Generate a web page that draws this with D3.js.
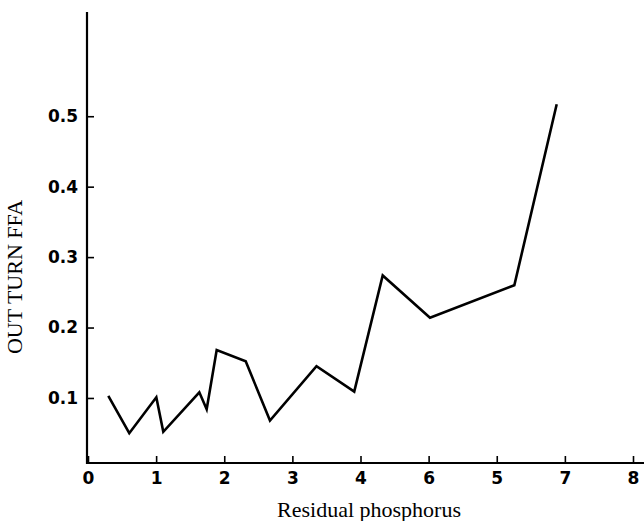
<!DOCTYPE html>
<html><head><meta charset="utf-8">
<script src="https://cdn.jsdelivr.net/npm/d3@7"></script>
<style>body{margin:0;background:#fff}svg{display:block}</style>
</head><body>
<script>
// Data (x in axis-position units; axis printed labels as in original)
const xPos = [0.298, 0.606, 1.003, 1.105, 1.634, 1.742, 1.889, 2.315, 2.671, 3.354, 3.908, 4.326, 5.020, 6.258, 6.880];
const ffa  = [0.103, 0.050, 0.101, 0.052, 0.108, 0.084, 0.168, 0.152, 0.068, 0.145, 0.109, 0.274, 0.214, 0.260, 0.517];
const xTickValues = [0,1,2,3,4,5,6,7,8];
const xTickLabels = ["0","1","2","3","4","6","5","7","8"];
const yTickValues = [0.1,0.2,0.3,0.4,0.5];
const yTickLabels = ["0.1","0.2","0.3","0.4","0.5"];

const W = 644, H = 521;
const svg = d3.select("body").append("svg").attr("width", W).attr("height", H);

const x = d3.scaleLinear().domain([0, 8]).range([88, 633]);
const y = d3.scaleLinear().domain([0, 0.6]).range([468.4, 45.8]);
const axisY = 463, axisX = 87;

// x axis
const gx = svg.append("g").attr("transform", `translate(0,${axisY})`)
  .call(d3.axisBottom(x).tickValues(xTickValues).tickFormat((d,i)=>xTickLabels[i]).tickSizeInner(-7).tickSizeOuter(0).tickPadding(9));
gx.select(".domain").remove();
gx.selectAll(".tick line").attr("stroke","#000").attr("stroke-width",1.6);
gx.selectAll(".tick text").attr("font-family","DejaVu Sans").attr("font-weight","bold").attr("font-size",17).attr("fill","#000");
svg.append("line").attr("x1",axisX).attr("x2",644).attr("y1",axisY).attr("y2",axisY)
  .attr("stroke","#000").attr("stroke-width",2.2);

// y axis
const gy = svg.append("g").attr("transform", `translate(${axisX},0)`)
  .call(d3.axisLeft(y).tickValues(yTickValues).tickFormat((d,i)=>yTickLabels[i]).tickSizeInner(-7).tickSizeOuter(0).tickPadding(9));
gy.select(".domain").remove();
gy.selectAll(".tick line").attr("stroke","#000").attr("stroke-width",1.6);
gy.selectAll(".tick text").attr("font-family","DejaVu Sans").attr("font-weight","bold").attr("font-size",17).attr("fill","#000");
svg.append("line").attr("x1",axisX).attr("x2",axisX).attr("y1",12).attr("y2",axisY+1)
  .attr("stroke","#000").attr("stroke-width",2.2);

// line
const pts = xPos.map((v,i)=>[v, ffa[i]]);
svg.append("path").datum(pts)
  .attr("d", d3.line().x(d=>x(d[0])).y(d=>y(d[1])))
  .attr("fill","none").attr("stroke","#000").attr("stroke-width",2.6).attr("stroke-linejoin","miter");

// titles
svg.append("text").attr("transform","translate(22,277) rotate(-90)")
  .attr("text-anchor","middle").attr("font-family","Liberation Serif").attr("font-size",22)
  .attr("fill","#000").text("OUT TURN FFA");
svg.append("text").attr("x",369).attr("y",517).attr("text-anchor","middle")
  .attr("font-family","Liberation Serif").attr("font-size",22).attr("fill","#000").text("Residual phosphorus");
</script>
</body></html>
